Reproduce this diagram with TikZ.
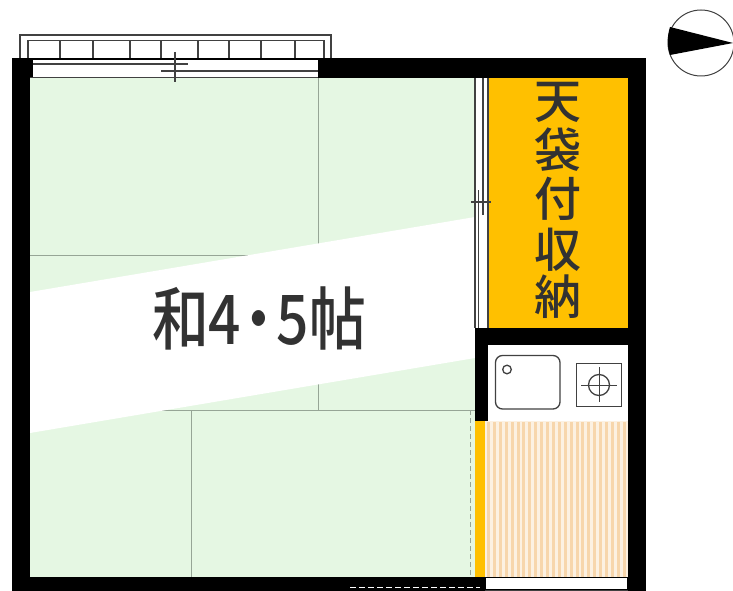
\documentclass[tikz,border=0pt]{standalone}
\usepackage{fontspec}
\newfontfamily\cjk{Noto Sans CJK JP}[BoldFont={Noto Sans CJK JP Medium}]
\definecolor{mat}{RGB}{229,247,227}
\definecolor{closet}{RGB}{255,192,0}
\definecolor{stripe}{RGB}{247,214,172}
\definecolor{matline}{RGB}{150,165,150}
\definecolor{ink}{RGB}{65,65,65}
\definecolor{tx}{RGB}{50,50,50}
\tikzset{
 wall/.style={fill=black,draw=none},
 ink line/.style={draw=ink,line width=1.3pt},
 thin ink/.style={draw=ink,line width=1pt},
 tatami/.style={draw=matline,line width=.8pt},
 room label/.style={font=\cjk\bfseries\fontsize{58}{58}\selectfont,text=tx,inner sep=0pt},
 closet label/.style={font=\cjk\bfseries\fontsize{47}{47}\selectfont,text=tx,inner sep=0pt},
}
\begin{document}
\begin{tikzpicture}[x=1pt,y=-1pt]
\useasboundingbox (0,0) rectangle (733,591);
\fill[white] (0,0) rectangle (733,591);
% floors
\fill[mat] (30,78) rectangle (475,577);
\draw[tatami] (318,78) -- (318,410);
\draw[tatami] (30,255) -- (318,255);
\draw[tatami] (30,410) -- (475,410);
\draw[tatami] (191,410) -- (191,577);
\fill[white] (30,292) -- (475,217) -- (475,358) -- (30,433) -- cycle;
\fill[closet] (488,78) rectangle (628,328);
\fill[white] (488,345) rectangle (628,421);
\fill[closet] (475,421) rectangle (485,577);
\fill[stripe!35!white] (485,421) rectangle (628,577);
\foreach \x in {487,492.9,...,626}{\fill[stripe] (\x,422) rectangle (\x+3,577);}
% walls
\fill[wall] (12,58) rectangle (646,78);
\fill[wall] (12,58) rectangle (30,591);
\fill[wall] (628,58) rectangle (646,591);
\fill[wall] (12,577) rectangle (646,591);
\fill[wall] (475,328) rectangle (628,345);
\fill[wall] (475,328) rectangle (488,421);
% top window
\fill[white] (33,60) rectangle (318,77);
\draw[ink line] (30,77.5) -- (318,77.5);
\draw[ink line] (33,64) -- (188,64);
\draw[ink line,line width=1.6pt] (161,71) -- (318,71);
\draw[ink line] (175,52) -- (175,82);
% balcony
\draw[ink line] (20,58) -- (20,35) -- (331,35) -- (331,58);
\draw[ink line] (28,58) -- (28,40.5) -- (324,40.5) -- (324,58);
\foreach \x in {60,93,130,161,198,229,261,295}{\draw[ink line] (\x,40.5) -- (\x,58);}
% sliding door to closet
\fill[white] (475,78) rectangle (488,328);
\draw[ink line] (475,78) -- (475,328);
\draw[ink line] (488,78) -- (488,328);
\draw[ink line] (478.5,190) -- (478.5,328);
\draw[ink line] (483,78) -- (483,215);
\draw[ink line] (471,202) -- (491,202);
% kitchen
\draw[ink line,rounded corners=7pt] (495.5,355.5) rectangle (560,409);
\draw[ink line] (507,369.5) circle (4.3);
\draw[thin ink] (576.5,363) rectangle (621,406);
\draw[ink line] (599,385) circle (10.5);
\draw[thin ink] (581,385) -- (617,385);
\draw[thin ink] (599,367) -- (599,402);
% door threshold
\draw[matline,line width=.9pt,dash pattern=on 5pt off 3pt] (470.5,410) -- (470.5,577);
\draw[white,line width=.9pt,dash pattern=on 6pt off 3pt] (350,587.5) -- (480,587.5);
\fill[white] (486,578) rectangle (627,588.5);
\draw[ink line] (485,590.5) -- (628,590.5);
% compass
\draw[ink,line width=1pt] (701,43) circle (33);
\fill[black] (670,27) -- (733,43) -- (670,55) .. controls (667,46) and (667,36) .. (670,27) -- cycle;
% labels
\node[room label] (room) at (259,318) {\scalebox{0.98}[1.18]{和4\kern-11pt ・\kern-11pt 5帖}};
\node[closet label] (c1) at (558,102) {天};
\node[closet label] (c2) at (558,149.5) {袋};
\node[closet label] (c3) at (558,199) {付};
\node[closet label] (c4) at (558,250) {収};
\node[closet label] (c5) at (558,297) {納};
\end{tikzpicture}
\end{document}
